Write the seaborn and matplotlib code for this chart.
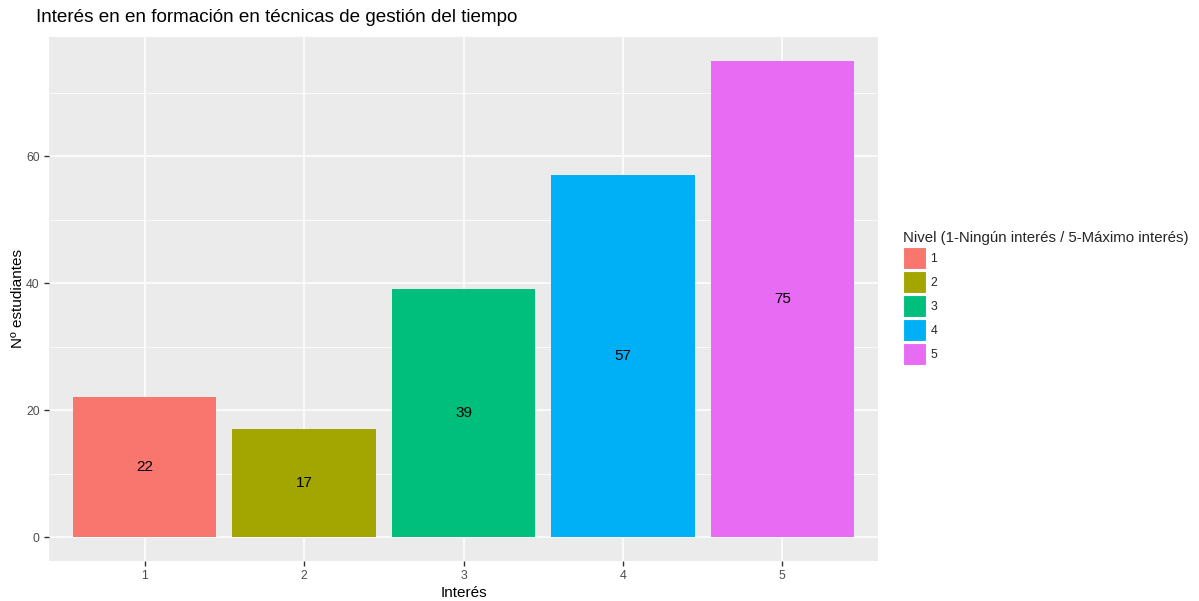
import matplotlib
matplotlib.use("Agg")
import matplotlib.pyplot as plt
import seaborn as sns
import pandas as pd
from matplotlib.patches import Patch

categories = ["1", "2", "3", "4", "5"]
values = [22, 17, 39, 57, 75]
colors = ["#F8766D", "#A3A500", "#00BF7D", "#00B0F6", "#E76BF3"]
title = "Interés en en formación en técnicas de gestión del tiempo"
xlabel = "Interés"
ylabel = "Nº estudiantes"
legend_title = "Nivel (1-Ningún interés / 5-Máximo interés)"

sns.set_theme(style="darkgrid")
plt.rcParams["font.family"] = ["Liberation Sans", "DejaVu Sans"]

W, H = 1199, 601
dpi = 100
fig = plt.figure(figsize=(W / dpi, H / dpi), dpi=dpi)
fig.patch.set_facecolor("white")
L, R, T, B = 49, 878, 37, 561
ax = fig.add_axes([L / W, 1 - B / H, (R - L) / W, (B - T) / H])
ax.set_facecolor("#EBEBEB")

df = pd.DataFrame({"Interes": categories, "n": values, "Nivel": categories})
sns.barplot(data=df, x="Interes", y="n", hue="Nivel", palette=colors,
            width=0.9, dodge=False, saturation=1, legend=False, ax=ax,
            edgecolor="none", linewidth=0)
for p in ax.patches:
    p.set_zorder(3)

for i, v in enumerate(values):
    ax.text(i, v / 2, str(v), ha="center", va="center", fontsize=11,
            color="black", zorder=4)

ax.set_xlim(-0.6, 4.6)
ax.set_ylim(-3.75, 78.75)
ax.set_yticks([0, 20, 40, 60])
ax.set_yticks([10, 30, 50, 70], minor=True)
ax.grid(True, which="major", color="white", linewidth=1.1, zorder=0)
ax.grid(True, which="minor", axis="y", color="white", linewidth=0.55, zorder=0)
ax.grid(False, which="minor", axis="x")
ax.set_axisbelow(True)
for s in ax.spines.values():
    s.set_visible(False)

ax.tick_params(axis="both", which="major", length=3.7, width=1.0, color="#333333",
               labelsize=8.8, labelcolor="#4D4D4D", pad=3, direction="out")
ax.tick_params(axis="both", which="minor", length=0)
ax.tick_params(bottom=True, left=True)

ax.set_xlabel(xlabel, fontsize=11, color="black", labelpad=3)
ax.set_ylabel(ylabel, fontsize=11, color="black", labelpad=1)
fig.text(36 / W, 1 - 18 / H, title, fontsize=13.6, color="black",
         ha="left", va="center")

handles = [Patch(facecolor=c, edgecolor="white", linewidth=0.8) for c in colors]
leg = fig.legend(handles, categories, title=legend_title, loc="upper left",
                 bbox_to_anchor=(898 / W, 1 - 226 / H), frameon=False,
                 fontsize=8.8, title_fontsize=10.8, handlelength=1.85,
                 handleheight=2.39, handletextpad=0.4, labelspacing=0.17,
                 borderaxespad=0)
leg._legend_box.align = "left"

fig.savefig("out.png", dpi=dpi, facecolor="white")
